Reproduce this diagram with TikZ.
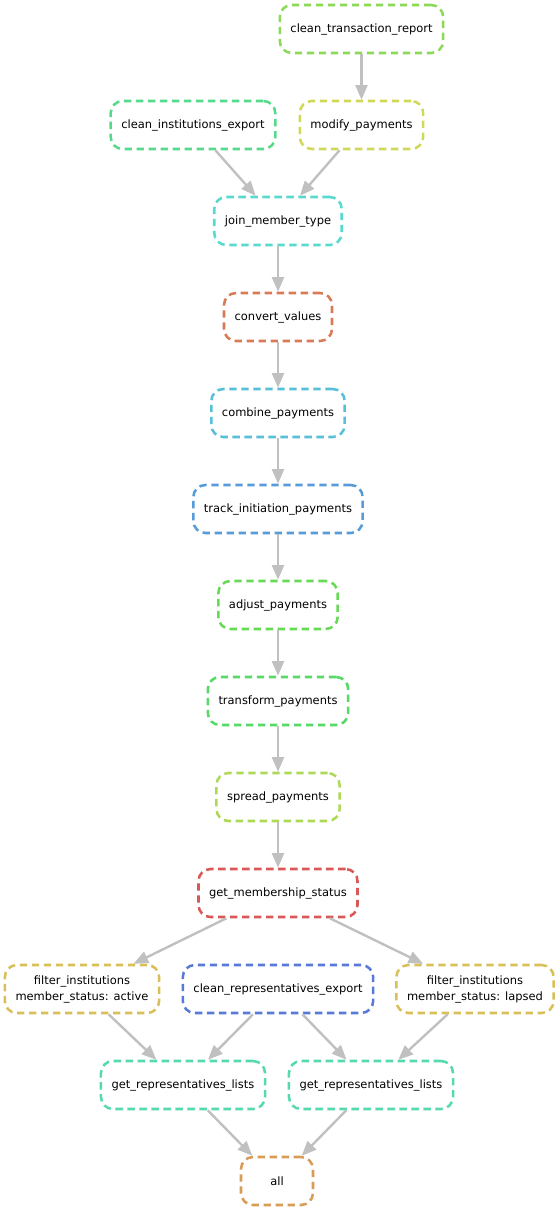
\documentclass[tikz,border=0pt]{standalone}
\usepackage{fontspec}
\setmainfont{DejaVu Sans}
\usetikzlibrary{arrows.meta}

\definecolor{cRed}{HTML}{D95757}
\definecolor{cConv}{HTML}{D97A57}
\definecolor{cAll}{HTML}{D99C57}
\definecolor{cFilt}{HTML}{D9BF57}
\definecolor{cMod}{HTML}{D0D957}
\definecolor{cSpread}{HTML}{AED957}
\definecolor{cTrans}{HTML}{8BD957}
\definecolor{cAdj}{HTML}{68D957}
\definecolor{cForm}{HTML}{57D968}
\definecolor{cInst}{HTML}{57D98B}
\definecolor{cReps}{HTML}{57D9AE}
\definecolor{cJoin}{HTML}{57D9D0}
\definecolor{cComb}{HTML}{57BFD9}
\definecolor{cTrack}{HTML}{579CD9}
\definecolor{cRepx}{HTML}{577AD9}
\definecolor{edgegray}{HTML}{C0C0C0}

\tikzset{
  rulebox/.style={draw=#1, rounded corners=9pt, dash pattern=on 5.5pt off 3.5pt,
    line width=1.9pt, minimum height=36pt, minimum width=54pt, inner xsep=8pt, align=center,
    font=\fontsize{8.6}{12}\selectfont},
  dep/.style={draw=edgegray, line width=1.8pt, -{Triangle[length=11pt,width=9pt]}},
}

\begin{document}
\begin{tikzpicture}[x=0.75pt,y=-0.75pt]
      \useasboundingbox (0,0) rectangle (559,1211);
      % rules
      \node[rulebox=cTrans]  (ctr)   at (361.5,29) {clean\_transaction\_report};
      \node[rulebox=cInst]   (cie)   at (193,125)  {clean\_institutions\_export};
      \node[rulebox=cMod]    (mod)   at (361.5,125) {modify\_payments};
      \node[rulebox=cJoin]   (join)  at (278,221)  {join\_member\_type};
      \node[rulebox=cConv]   (conv)  at (278,317)  {convert\_values};
      \node[rulebox=cComb]   (comb)  at (278,413)  {combine\_payments};
      \node[rulebox=cTrack]  (track) at (278,509)  {track\_initiation\_payments};
      \node[rulebox=cAdj]    (adj)   at (278,605)  {adjust\_payments};
      \node[rulebox=cForm]   (form)  at (278,701)  {transform\_payments};
      \node[rulebox=cSpread] (sprd)  at (278,797)  {spread\_payments};
      \node[rulebox=cRed]    (stat)  at (278,893)  {get\_membership\_status};
      \node[rulebox=cFilt]   (fact)  at (82,989)   {filter\_institutions\\member\_status: active};
      \node[rulebox=cRepx]   (crep)  at (278,989)  {clean\_representatives\_export};
      \node[rulebox=cFilt]   (flap)  at (475,989)  {filter\_institutions\\member\_status: lapsed};
      \node[rulebox=cReps]   (gl)    at (183,1085) {get\_representatives\_lists};
      \node[rulebox=cReps]   (gr)    at (371,1085) {get\_representatives\_lists};
      \node[rulebox=cAll]    (all)   at (277,1181) {all};
      % dependencies
      \draw[dep] (ctr) -- (mod);
      \draw[dep] (cie) -- (join);
      \draw[dep] (mod) -- (join);
      \draw[dep] (join) -- (conv);
      \draw[dep] (conv) -- (comb);
      \draw[dep] (comb) -- (track);
      \draw[dep] (track) -- (adj);
      \draw[dep] (adj) -- (form);
      \draw[dep] (form) -- (sprd);
      \draw[dep] (sprd) -- (stat);
      \draw[dep] (stat) -- (fact);
      \draw[dep] (stat) -- (flap);
      \draw[dep] (fact) -- (gl);
      \draw[dep] (crep) -- (gl);
      \draw[dep] (crep) -- (gr);
      \draw[dep] (flap) -- (gr);
      \draw[dep] (gl) -- (all);
      \draw[dep] (gr) -- (all);
    \end{tikzpicture}
\end{document}
